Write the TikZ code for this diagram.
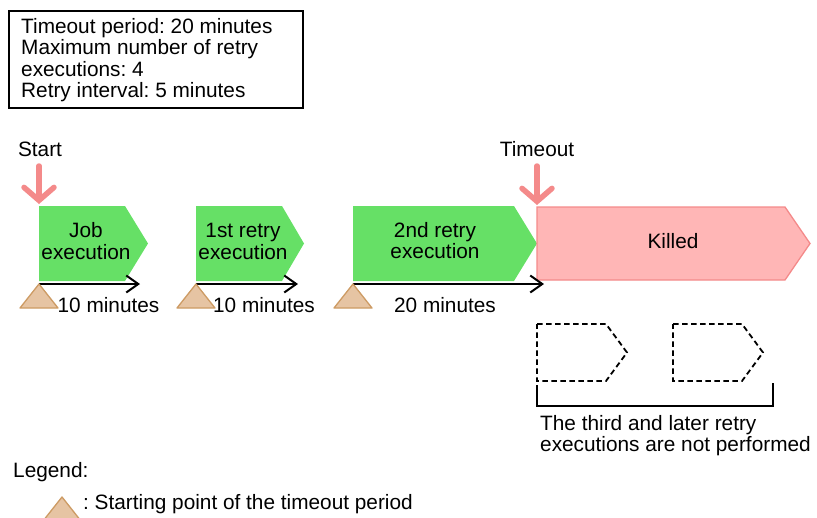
\documentclass[tikz,border=0pt]{standalone}
\usepackage{fontspec}
\setmainfont{Liberation Sans}
\usetikzlibrary{arrows.meta}
\definecolor{jobgreen}{HTML}{66E066}
\definecolor{killfill}{HTML}{FFB6B6}
\definecolor{pinkline}{HTML}{F48A8A}
\definecolor{tanfill}{HTML}{E6C4A3}
\definecolor{tanline}{HTML}{CD9B64}
\newcommand\pentpath[6]{\path[#1] (#2,#5) -- (#3,#5) -- (#4,{(#5+#6)/2}) -- (#3,#6) -- (#2,#6) -- cycle;}
\frenchspacing
\begin{document}
\begin{tikzpicture}[x=1pt,y=-1pt,
  txt/.style={inner sep=0pt, font=\fontsize{20.8}{21.5}\selectfont},
  lbl/.style={txt, anchor=base west},
  ctr/.style={txt, anchor=base, align=center},
  greenpent/.style={fill=jobgreen, draw=none},
  killpent/.style={fill=killfill, draw=pinkline, line width=1.3pt},
  ghost/.style={draw=black, dash pattern=on 5.5pt off 3.5pt, line width=1.8pt},
  dur/.style={draw=black, line width=2pt, -{Straight Barb[length=12pt,width=17pt]}},
  startmark/.style={fill=tanfill, draw=tanline, line width=1.3pt, line join=round},
  evt/.style={draw=pinkline, line width=5.5pt, line cap=round, -{Straight Barb[length=13pt,width=30pt,line cap=round]}},
  infobox/.style={draw=black, line width=1.5pt}
]
\useasboundingbox (0,0) rectangle (817,517);

% info box
\draw[infobox] (9,11) rectangle (303,108);
\node[lbl] (info1) at (21,33) {Timeout period: 20 minutes};
\node[lbl] (info2) at (21,54.5) {Maximum number of retry};
\node[lbl] (info3) at (21,76) {executions: 4};
\node[lbl] (info4) at (21,97.5) {Retry interval: 5 minutes};

% pentagons
\pentpath{greenpent}{39}{125}{148}{206}{281}
\pentpath{greenpent}{196}{282}{304}{206}{281}
\pentpath{greenpent}{353}{514}{537}{206}{281}
\pentpath{killpent}{537}{785}{810}{207}{280}
\pentpath{ghost}{537}{606}{627}{324}{381}
\pentpath{ghost}{673}{742}{763}{324}{381}

\node[ctr] (job) at (86,259) {Job\\execution};
\node[ctr] (retry1) at (243,259) {1st retry\\execution};
\node[ctr] (retry2) at (435,258.5) {2nd retry\\execution};
\node[txt, anchor=base] (killed) at (673,248) {Killed};

% events
\node[txt, anchor=base] (start) at (40,156.5) {Start};
\node[txt, anchor=base] (timeout) at (537,156) {Timeout};
\coordinate (startfrom) at (39,166);
\coordinate (startto) at (39,204);
\coordinate (tofrom) at (537,166);
\coordinate (toto) at (537,205);
\draw[evt] (startfrom) -- (startto);
\draw[evt] (tofrom) -- (toto);

% durations
\coordinate (d1a) at (39,284); \coordinate (d1b) at (140,284);
\coordinate (d2a) at (196,284); \coordinate (d2b) at (298,284);
\coordinate (d3a) at (353,284); \coordinate (d3b) at (544,284);
\draw[dur] (d1a) -- (d1b);
\draw[dur] (d2a) -- (d2b);
\draw[dur] (d3a) -- (d3b);

% start-of-timeout marks
\path[startmark] (d1a) -- (58,308) -- (20,308) -- cycle;
\path[startmark] (d2a) -- (215,308) -- (177,308) -- cycle;
\path[startmark] (d3a) -- (372,308) -- (334,308) -- cycle;

\node[txt, anchor=base] (m1) at (108.5,312) {10 minutes};
\node[txt, anchor=base] (m2) at (264,312) {10 minutes};
\node[txt, anchor=base] (m3) at (445,312) {20 minutes};

% bracket
\coordinate (bra) at (537,385); \coordinate (brb) at (537,406);
\coordinate (brc) at (773,406); \coordinate (brd) at (773,383);
\draw[line width=1.5pt] (bra) -- (brb) -- (brc) -- (brd);
\node[lbl] (note1) at (540,430) {The third and later retry};
\node[lbl] (note2) at (540,451.5) {executions are not performed};

% legend
\node[lbl] (legend) at (13,477) {Legend:};
\path[startmark] (62,497) -- (81,521) -- (43,521) -- cycle;
\node[lbl] (legtext) at (83,509) {: Starting point of the timeout period};
\end{tikzpicture}
\end{document}
